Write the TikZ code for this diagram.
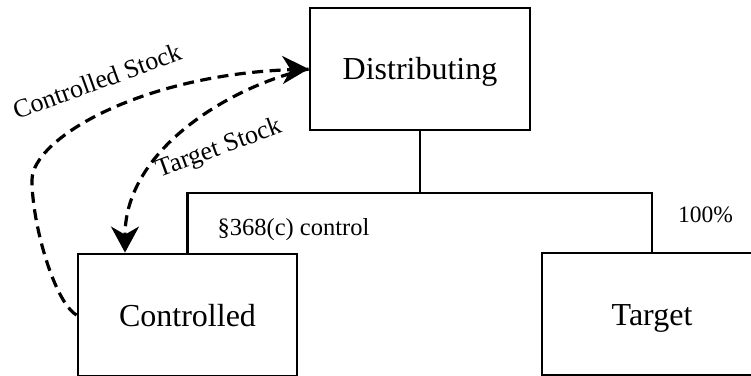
\documentclass[tikz,border=0pt]{standalone}
\usepackage{fontspec}
\setmainfont{Liberation Serif}
\usetikzlibrary{arrows.meta}

\begin{document}
\begin{tikzpicture}[x=1pt,y=1pt,
  entity/.style={draw, line width=2.8pt, minimum width=220pt, minimum height=122pt,
    inner sep=0pt, font=\fontsize{32}{38}\selectfont, text height=22pt, text depth=0pt},
  tree/.style={line width=2.8pt},
  flow/.style={line width=3.2pt, dash pattern=on 11pt off 6.5pt,
    -{Stealth[length=26pt,width=28pt,inset=8pt]}},
  lbl/.style={inner sep=0pt, font=\fontsize{26}{31}\selectfont},
  sec/.style={inner sep=0pt, font=\fontsize{24.5}{29}\selectfont},
  pct/.style={inner sep=0pt, font=\fontsize{23.5}{28}\selectfont}]
  \useasboundingbox (0,0) rectangle (751,375);
  \clip (0,0) rectangle (751,375);

  % entities
  \node[entity] (dist) at (420,306) {Distributing};
  \node[entity, minimum width=219pt] (ctrl) at (187.5,60) {Controlled};
  \node[entity] (targ) at (652,61) {Target};

  % ownership tree
  \coordinate (bus) at (420,182);
  \draw[tree] (dist.south) -- (bus);
  \draw[tree] (ctrl.north) |- (bus) -| (targ.north);

  \node[sec, anchor=base] (seclab) at (293.5,140) {§368(c) control};
  \node[pct, anchor=base] (hundred) at (705.5,153) {100\%};

  % stock transfers
  \coordinate (bend) at (32,195);
  \coordinate (drop) at ([xshift=-62.5pt]ctrl.north);
  \draw[flow] (ctrl.west) .. controls (55,72) and (32,150) .. (bend)
    .. controls (32,236) and (140,300) .. (dist.west);
  \draw[flow] (dist.west) .. controls (240,292) and (125,230) .. (drop);

  \node[lbl, rotate=20] (cslab) at (97,294) {Controlled Stock};
  \node[lbl, rotate=20] (tslab) at (219,226) {Target Stock};
\end{tikzpicture}
\end{document}
